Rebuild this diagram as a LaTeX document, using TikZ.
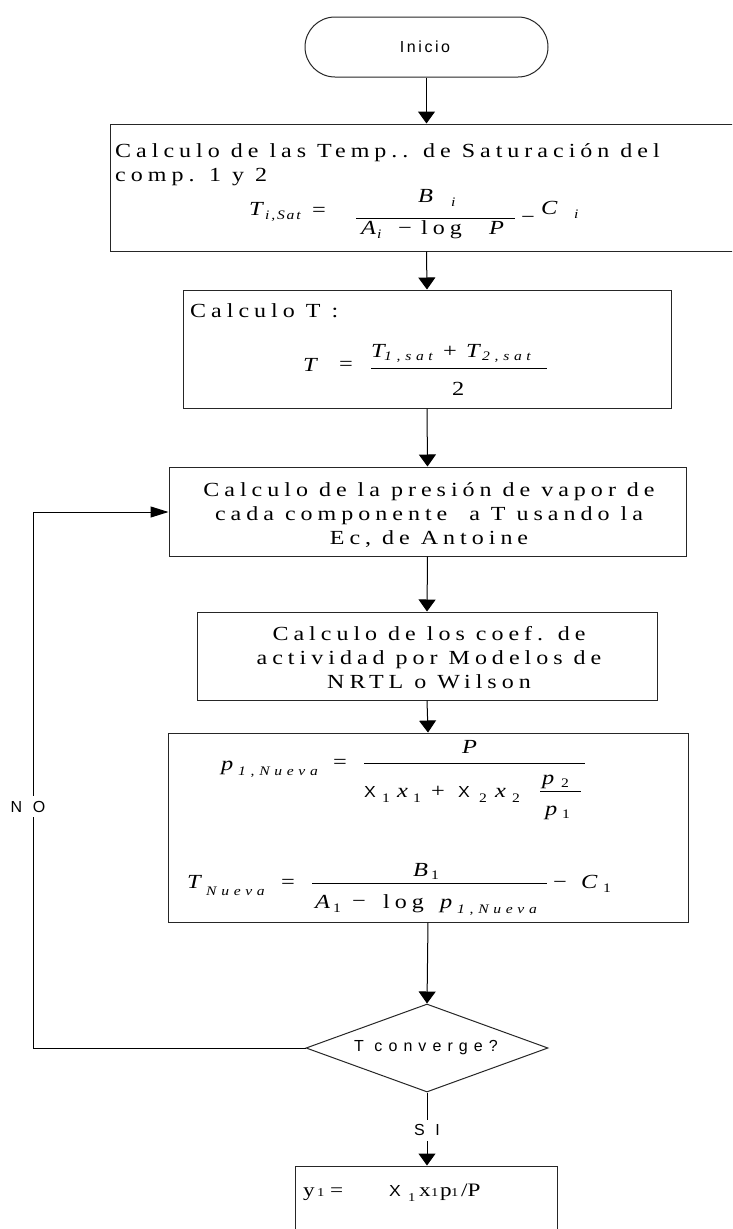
\documentclass[tikz,border=0pt]{standalone}
\usepackage{fontspec}
\setmainfont{Liberation Serif}
\newfontfamily\spserif[LetterSpace=25,FakeStretch=1.2]{Liberation Serif}
\newfontfamily\stserif[FakeStretch=1.22]{Liberation Serif}
\newfontfamily\spsub[LetterSpace=36,FakeStretch=1.2]{Liberation Serif}
\newfontfamily\spsubb[LetterSpace=14,FakeStretch=1.2]{Liberation Serif}
\newfontfamily\spsans[LetterSpace=38]{Liberation Sans}
\newfontfamily\spsansb[LetterSpace=16]{Liberation Sans}
\newfontfamily\plsans[FakeStretch=1.1]{Liberation Sans}
\usetikzlibrary{arrows.meta,shapes.geometric,shapes.misc}
\newcommand\txtf{\spserif\fontsize{20}{24}\selectfont}
\newcommand\subf{\spsub\itshape\fontsize{13}{13}\selectfont}
\newcommand\subfb{\spsubb\itshape\fontsize{13}{13}\selectfont}
\newcommand\subup{\spsub\fontsize{13}{13}\selectfont}
\newcommand\mif{\stserif\itshape\fontsize{20}{20}\selectfont}
\newcommand\mup{\stserif\upshape\fontsize{20}{20}\selectfont}
\newcommand\labf{\spsans\fontsize{16}{16}\selectfont}
\newcommand\labfb{\spsansb\fontsize{16}{16}\selectfont}
\newcommand\gxf{\plsans\fontsize{16}{16}\selectfont}
\newcommand\yf{\stserif\upshape\fontsize{19}{19}\selectfont}
\newcommand\ysf{\stserif\upshape\fontsize{12}{12}\selectfont}
\tikzset{
  box/.style={draw=black!85, line width=1pt, inner sep=0pt},
  tx/.style={inner sep=0pt, anchor=base west, font=\txtf},
  tc/.style={inner sep=0pt, anchor=base, font=\txtf},
  mi/.style={inner sep=0pt, anchor=base west, font=\mif},
  mu/.style={inner sep=0pt, anchor=base west, font=\mup},
  lg/.style={inner sep=0pt, anchor=base west, font=\txtf},
  sb/.style={inner sep=0pt, anchor=base west, font=\subf},
  sbb/.style={inner sep=0pt, anchor=base west, font=\subfb},
  sbu/.style={inner sep=0pt, anchor=base west, font=\subup},
  gx/.style={inner sep=0pt, anchor=base west, font=\gxf},
  yt/.style={inner sep=0pt, anchor=base west, font=\yf},
  ys/.style={inner sep=0pt, anchor=base west, font=\ysf},
  fbar/.style={line width=0.9pt},
  conn/.style={line width=1pt, draw=black},
  varr/.style={conn, -{Triangle[length=12pt,width=17pt]}},
  harr/.style={conn, -{Triangle[length=18pt,width=11pt]}},
  lab/.style={font=\labf, fill=white, inner xsep=1pt, inner ysep=5pt},
}
\begin{document}
\begin{tikzpicture}[x=1pt,y=-1pt]
\useasboundingbox (0,0) rectangle (732,1229);
\fill[white] (0,0) rectangle (732,1229);
\clip (0,0) rectangle (732,1229);

% shapes
\node[box, rounded rectangle, minimum width=243pt, minimum height=60pt] (inicio) at (426.5,47) {};
\node[inner sep=0pt, font=\labfb] (iniciot) at (425,47) {Inicio};
\node[box, rectangle, minimum width=630pt, minimum height=127pt] (b1) at (425,187.5) {};
\node[box, rectangle, minimum width=488pt, minimum height=118pt] (b2) at (427,349) {};
\node[box, rectangle, minimum width=517pt, minimum height=89pt] (b3) at (427.5,511.5) {};
\node[box, rectangle, minimum width=460pt, minimum height=88pt] (b4) at (427,656) {};
\node[box, rectangle, minimum width=520pt, minimum height=189pt] (b5) at (428,827.5) {};
\node[box, diamond, minimum width=242pt, minimum height=88pt] (dec) at (427,1048) {};
\node[box, rectangle, minimum width=262pt, minimum height=80pt] (b6) at (426,1206) {};
\node[inner sep=0pt, font=\labf] (dect) at (426,1048) {T converge?};

% connectors
\coordinate (c1) at (33,1048);
\coordinate (c2) at (33,512);
\draw[varr] (inicio.south) -- (inicio.south |- b1.north);
\draw[varr] (inicio.south |- b1.south) -- (b2.north);
\draw[varr] (b2.south) -- (b3.north);
\draw[varr] (b3.south) -- (b4.north);
\draw[varr] (b4.south) -- (b5.north);
\draw[varr] (b5.south) -- (dec.north);
\draw[varr] (dec.south) -- node[lab, pos=0.52] (si) {S I} (dec.south |- b6.north);
\draw[conn] (dec.west) -- (c1) -- node[lab, pos=0.45, xshift=-5pt] (no) {N O} (c2);
\draw[harr] (c2) -- (c2 -| b3.west);

% box 1
\node[tx] (t1a) at (115,157) {Calculo de las Temp.. de Saturación del};
\node[tx] (t1b) at (115,181) {comp. 1 y 2};
\node[mi] (f1T) at (249,215) {T};
\node[sbb] (f1Ts) at (265,219) {i,Sat};
\node[mu] (f1eq) at (312,216) {=};
\draw[fbar] (356,218) -- (515,218);
\node[mi] (f1B) at (418,202) {B};
\node[sbb] (f1Bs) at (451,206) {i};
\node[mi] (f1A) at (361,234) {A};
\node[sbb] (f1As) at (377,238) {i};
\node[mu] (f1m) at (398,234) {−};
\node[lg] (f1log) at (421,234) {log};
\node[mi] (f1P) at (489,234) {P};
\node[mu] (f1m2) at (521,223) {−};
\node[mi] (f1C) at (541,214) {C};
\node[sbb] (f1Cs) at (574,218) {i};

% box 2
\node[tx] (t2a) at (190,317) {Calculo T :};
\node[mi] (f2T) at (303,371) {T};
\node[mu] (f2eq) at (339,370) {=};
\draw[fbar] (371,368) -- (547,368);
\node[mi] (f2T1) at (371,357) {T};
\node[sb] (f2T1s) at (384,360) {1,sat};
\node[mu] (f2p) at (443,357) {+};
\node[mi] (f2T2) at (466,357) {T};
\node[sb] (f2T2s) at (482,360) {2,sat};
\node[mu] (f2two) at (452,395) {2};

% box 3
\node[tc] (t3a) at (429,496) {Calculo de la presión de vapor de};
\node[tc] (t3b) at (429,520) {cada componente\ \ a T usando la};
\node[tc] (t3c) at (429,544) {Ec, de Antoine};

% box 4
\node[tc] (t4a) at (429,640) {Calculo de los coef. de};
\node[tc] (t4b) at (429,664) {actividad por Modelos de};
\node[tc] (t4c) at (429,688) {NRTL o Wilson};

% box 5 formula 1
\node[mi] (f3p) at (221,770) {p};
\node[sb] (f3ps) at (238,775) {1,Nueva};
\node[mu] (f3eq) at (333,768) {=};
\draw[fbar] (364,763) -- (585,763);
\node[mi] (f3P) at (462,753) {P};
\node[gx] (f3X1) at (364,797) {X};
\node[sbu] (f3X1s) at (382,802) {1};
\node[mi] (f3x1) at (397,797) {x};
\node[sbu] (f3x1s) at (413,802) {1};
\node[mu] (f3plus) at (431,797) {+};
\node[gx] (f3X2) at (458,797) {X};
\node[sbu] (f3X2s) at (479,802) {2};
\node[mi] (f3x2) at (495,797) {x};
\node[sbu] (f3x2s) at (512,802) {2};
\draw[fbar] (540,791) -- (581,791);
\node[mi] (f3p2) at (542,784) {p};
\node[sbu] (f3p2s) at (561,787) {2};
\node[mi] (f3p1) at (545,815) {p};
\node[sbu] (f3p1s) at (562,818) {1};

% box 5 formula 2
\node[mi] (f4T) at (187,888) {T};
\node[sb] (f4Ts) at (206,895) {Nueva};
\node[mu] (f4eq) at (281,888) {=};
\draw[fbar] (312,883) -- (547,883);
\node[mi] (f4B) at (413,876) {B};
\node[sbu] (f4Bs) at (431,879) {1};
\node[mi] (f4A) at (315,908) {A};
\node[sbu] (f4As) at (333,912) {1};
\node[mu] (f4m) at (352,907) {−};
\node[lg] (f4log) at (383,908) {log};
\node[mi] (f4p) at (440,908) {p};
\node[sb] (f4ps) at (457,913) {1,Nueva};
\node[mu] (f4m2) at (553,888) {−};
\node[mi] (f4C) at (581,888) {C};
\node[sbu] (f4Cs) at (603,892) {1};

% box 6
\node[yt] (y1) at (303,1196) {y};
\node[ys] (y1s) at (317,1196) {1};
\node[yt] (y1eq) at (330,1196) {=};
\node[gx] (y1X) at (389,1196) {X};
\node[ys] (y1Xs) at (408,1201) {1};
\node[yt] (y1x) at (419,1196) {x};
\node[ys] (y1xs) at (431,1196) {1};
\node[yt] (y1p) at (440,1196) {p};
\node[ys] (y1ps) at (451,1196) {1};
\node[yt] (y1P) at (461,1196) {/P};
\end{tikzpicture}
\end{document}
